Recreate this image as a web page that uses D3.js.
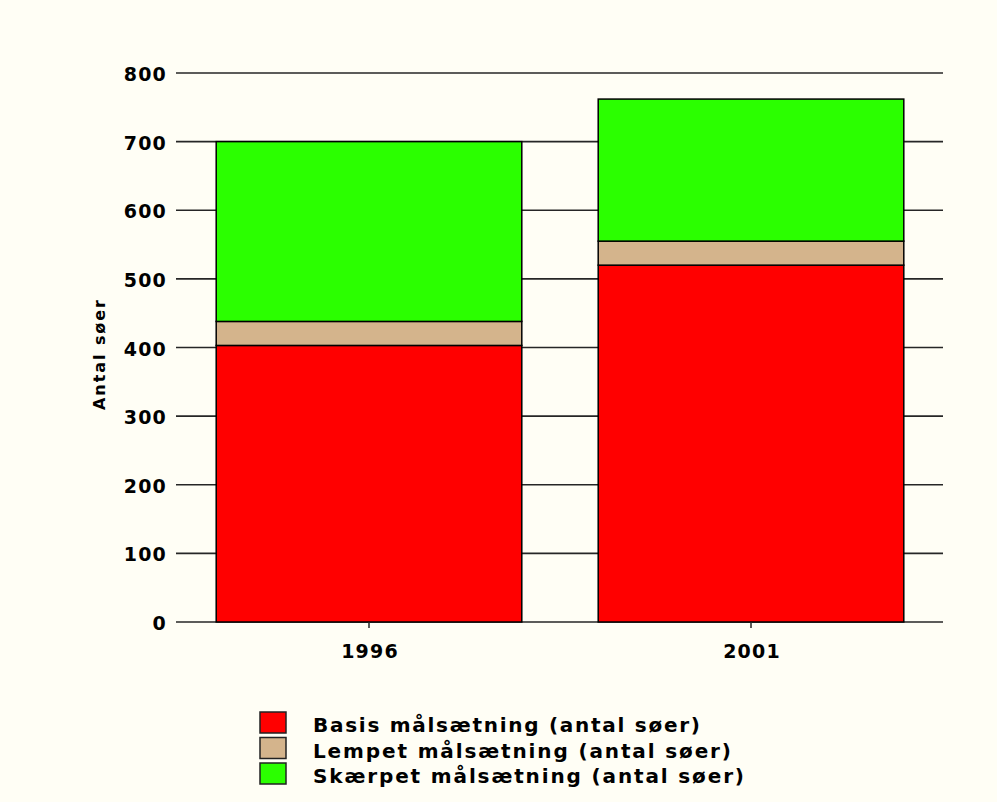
<!DOCTYPE html>
<html>
<head>
<meta charset="utf-8">
<script src="https://cdn.jsdelivr.net/npm/d3@7/dist/d3.min.js"></script>
<style>
  html, body { margin: 0; padding: 0; background: #fffef5; }
  svg { display: block; }
  text { font-family: Verdana, "DejaVu Sans", sans-serif; font-weight: bold; fill: #000; }
</style>
</head>
<body>
<svg id="chart" width="997" height="802"></svg>
<script>
// Number of lakes per target category, 1996 and 2001
const years = ["1996", "2001"];
const seriesNames = [
  "Basis målsætning (antal søer)",
  "Lempet målsætning (antal søer)",
  "Skærpet målsætning (antal søer)"
];
const basis   = [403, 520];
const lempet  = [35, 35];
const skaerpet = [262, 207];
const yTicks = [0, 100, 200, 300, 400, 500, 600, 700, 800];
const yTitle = "Antal søer";
const colors = ["#ff0000", "#d4b48c", "#2bff00"];

const svg = d3.select("#chart");

const x = d3.scaleBand().domain(years).range([178, 942])
  .paddingInner(0.2).paddingOuter(0.1);
const y = d3.scaleLinear().domain([0, 800]).range([622, 73]);

// stacked layout
const rows = years.map((yr, i) => ({ year: yr, b: basis[i], l: lempet[i], s: skaerpet[i] }));
const stack = d3.stack().keys(["b", "l", "s"])(rows);

// horizontal grid lines behind the bars
svg.append("g").selectAll("line").data(yTicks).join("line")
  .attr("x1", 176).attr("x2", 943)
  .attr("y1", d => y(d)).attr("y2", d => y(d))
  .attr("stroke", "#262626").attr("stroke-width", 1.6);

// y tick labels
svg.append("g").selectAll("text").data(yTicks).join("text")
  .attr("x", 167).attr("y", d => y(d) + 8)
  .attr("text-anchor", "end")
  .style("font-size", "19px").style("letter-spacing", "1.2px")
  .text(d => d);

// bars
svg.append("g").selectAll("g").data(stack).join("g")
  .attr("fill", (d, i) => colors[i])
  .selectAll("rect").data(d => d).join("rect")
  .attr("x", d => x(d.data.year))
  .attr("width", x.bandwidth())
  .attr("y", d => y(d[1]))
  .attr("height", d => y(d[0]) - y(d[1]))
  .attr("stroke", "#000").attr("stroke-width", 1.5);

// x axis ticks and labels
svg.append("g").selectAll("line").data(years).join("line")
  .attr("x1", d => x(d) + x.bandwidth() / 2).attr("x2", d => x(d) + x.bandwidth() / 2)
  .attr("y1", 622).attr("y2", 628)
  .attr("stroke", "#262626").attr("stroke-width", 1.5);
svg.append("g").selectAll("text").data(years).join("text")
  .attr("x", d => x(d) + x.bandwidth() / 2 + 1).attr("y", 658)
  .attr("text-anchor", "middle")
  .style("font-size", "19px").style("letter-spacing", "1.2px")
  .text(d => d);

// y axis title
svg.append("text")
  .attr("transform", "translate(105,355) rotate(-90)")
  .attr("text-anchor", "middle")
  .attr("textLength", 110).attr("lengthAdjust", "spacing")
  .style("font-size", "16px")
  .text(yTitle);

// legend
const legendWidths = [387, 418, 431];
const lg = svg.append("g").selectAll("g").data(seriesNames).join("g")
  .attr("transform", (d, i) => `translate(260,${712 + i * 25.5})`);
lg.append("rect")
  .attr("width", 26).attr("height", 21)
  .attr("fill", (d, i) => colors[i])
  .attr("stroke", "#222").attr("stroke-width", 1.5);
lg.append("text")
  .attr("x", 53).attr("y", 20)
  .attr("textLength", (d, i) => legendWidths[i]).attr("lengthAdjust", "spacing")
  .style("font-size", "20px")
  .text(d => d);
</script>
</body>
</html>
